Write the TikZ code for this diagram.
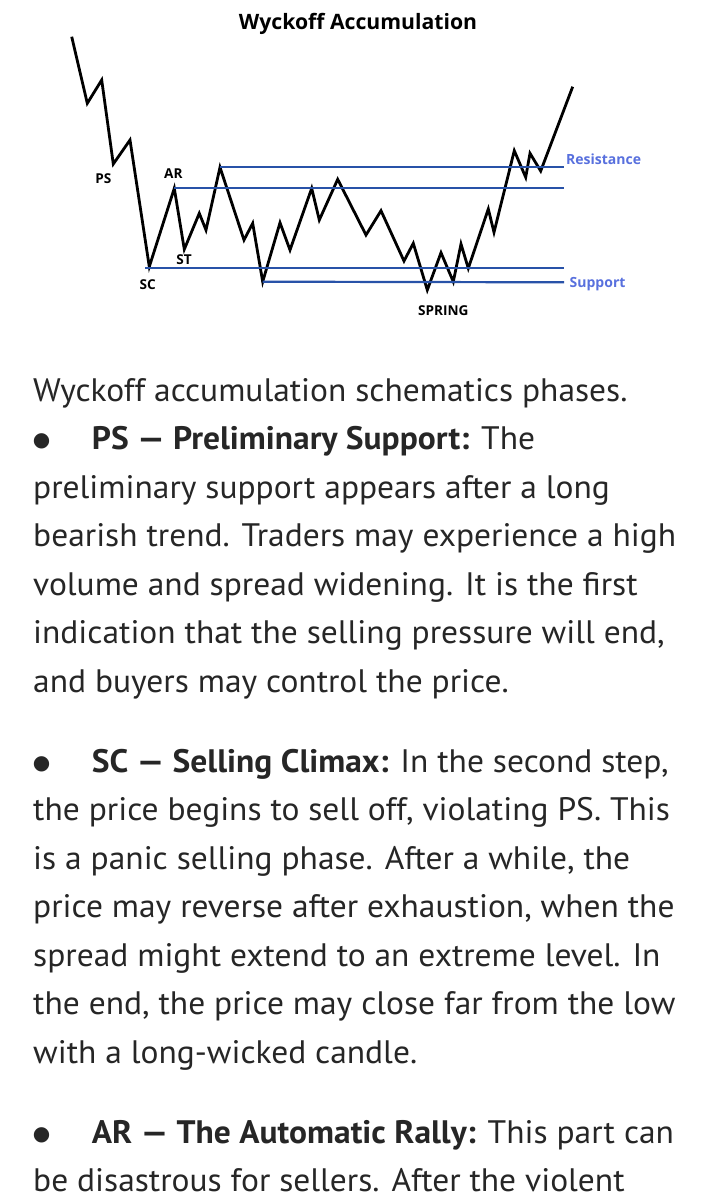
\documentclass[tikz,border=0pt]{standalone}
\usepackage{fontspec}
\setmainfont{PT Sans}[FakeStretch=1.03]
\newfontfamily\chartfont{Open Sans}
\newfontfamily\symfont{DejaVu Sans}
\usepackage{tikz}

\definecolor{lineblue}{RGB}{40,82,168}
\definecolor{labelblue}{RGB}{88,112,222}
\definecolor{textgray}{RGB}{38,38,38}

\begin{document}
\begin{tikzpicture}[x=1pt, y=-1pt,
  price/.style={line width=2.8pt, black, line join=miter},
  level/.style={line width=2.2pt, lineblue},
  chart label/.style={font=\chartfont\bfseries\fontsize{13.6}{15}\selectfont, inner sep=0pt},
  level label/.style={font=\chartfont\bfseries\fontsize{14}{16}\selectfont, text=labelblue, inner sep=0pt, anchor=west},
  body/.style={font=\fontsize{32.5}{38}\selectfont, text=textgray, inner sep=0pt, anchor=base west},
  bullet/.style={font=\symfont\fontsize{20}{24}\selectfont, text=textgray, inner sep=0pt}]
        \useasboundingbox (0,0) rectangle (707,1200);
        \fill[white] (0,0) rectangle (707,1200);

        % Title
        \node[font=\chartfont\bfseries\fontsize{21.2}{24}\selectfont] (title) at (358,24) {Wyckoff Accumulation};

        % Key points of the price path
        \coordinate (sc) at (149.3,266.7);
        \coordinate (ar) at (174.3,188.3);
        \coordinate (st) at (184.3,249.3);
        \coordinate (top) at (220,167.3);
        \coordinate (low) at (262.7,281.7);
        \coordinate (spring) at (427.3,290);

        % Price path
        \draw[price] (71.7,36.7) -- (87.3,103.3) -- (101.7,80) -- (113.3,164) -- (130,140)
            -- (sc) -- (ar) -- (st) -- (199.3,213.3) -- (206,230) -- (top)
            -- (244,240) -- (252.7,223.3) -- (low) -- (280,222.7) -- (290,250)
            -- (311.7,188.3) -- (319.3,220) -- (337.7,179.3) -- (366,235) -- (381,210.7)
            -- (404,261) -- (413.3,243.3) -- (spring) -- (441,252.7) -- (453.3,281.7)
            -- (461,244) -- (468.3,268.3) -- (488.3,209) -- (494,232.3) -- (514.3,150.7)
            -- (525.7,177.3) -- (530,153.3) -- (540.7,171) -- (572.7,86.7);

        % Levels
        \coordinate (res end) at (564,167.3);
        \coordinate (ar end) at (564,188.3);
        \coordinate (sup start) at (145,267.7);
        \coordinate (sup end) at (564,267.7);
        \coordinate (low end) at (564,282.3);
        \draw[level] (top) -- (res end);
        \draw[level] (ar) -- (ar end);
        \draw[level] (sup start) -- (sup end);
        \draw[level] (low) -- (low end);

        % Chart labels
        \node[chart label] (ps label) at (103.3,178.3) {PS};
        \node[chart label] (ar label) at (173.3,174) {AR};
        \node[chart label] (st label) at (184,259.3) {ST};
        \node[chart label] (sc label) at (147.7,284.3) {SC};
        \node[chart label] (spring label) at (443.3,310.7) {SPRING};
        \node[level label] (res label) at (566,159.5) {Resistance};
        \node[level label] (sup label) at (569.5,284) {Support};

        % Text
        \node[body] (l1) at (33,401) {Wyckoff accumulation schematics phases.};
        \node[bullet] (b1) at (41.7,441.7) {●};
        \node[body] (l2) at (91.7,449.5) {\textbf{PS — Preliminary Support:} The};
        \node[body] (l3) at (33,498) {preliminary support appears after a long};
        \node[body] (l4) at (33,546.5) {bearish trend. Traders may experience a high};
        \node[body] (l5) at (33,595) {volume and spread widening. It is the first};
        \node[body] (l6) at (33,643.5) {indication that the selling pressure will end,};
        \node[body] (l7) at (33,692) {and buyers may control the price.};

        \node[bullet] (b2) at (41.7,764) {●};
        \node[body] (l8) at (91.7,772) {\textbf{SC — Selling Climax:} In the second step,};
        \node[body] (l9) at (33,820.5) {the price begins to sell off, violating PS. This};
        \node[body] (l10) at (33,869) {is a panic selling phase. After a while, the};
        \node[body] (l11) at (33,917.5) {price may reverse after exhaustion, when the};
        \node[body] (l12) at (33,966) {spread might extend to an extreme level. In};
        \node[body] (l13) at (33,1014.5) {the end, the price may close far from the low};
        \node[body] (l14) at (33,1063) {with a long-wicked candle.};

        \node[bullet] (b3) at (41.7,1135) {●};
        \node[body] (l15) at (91.7,1143) {\textbf{AR — The Automatic Rally:} This part can};
        \node[body] (l16) at (33,1191.5) {be disastrous for sellers. After the violent};
    \end{tikzpicture}
\end{document}
